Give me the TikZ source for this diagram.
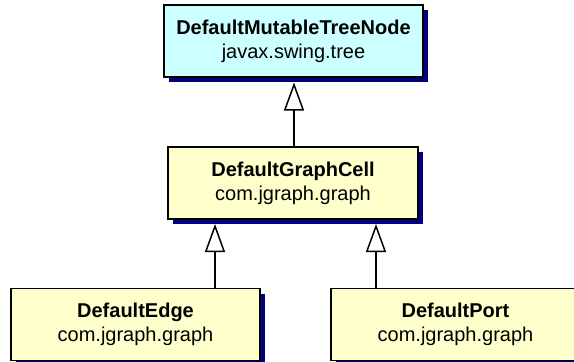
\documentclass[tikz,border=0pt]{standalone}
\usepackage{fontspec}
\setmainfont{Liberation Sans}
\usetikzlibrary{arrows.meta,shadows}
\definecolor{classcyan}{HTML}{CCFFFF}
\definecolor{classyellow}{HTML}{FFFFCC}
\definecolor{shadownavy}{HTML}{000080}
\tikzset{
  classbox/.style={draw=black, line width=1.6pt, rectangle, inner sep=0pt,
    minimum height=72pt, align=center,
    font=\fontsize{20pt}{24pt}\selectfont,
    drop shadow={shadow xshift=5pt, shadow yshift=-5pt, fill=shadownavy, opacity=1}},
  inherits/.style={line width=1.5pt,
    -{Triangle[length=28pt, width=20pt, fill=white, line width=1.5pt]}}
}
\begin{document}
\begin{tikzpicture}[x=1pt, y=-1pt]
  \useasboundingbox (0,0) rectangle (574,362);
  \clip (0,0) rectangle (574,362);

  % classes
  \node[classbox, fill=classcyan, minimum width=259pt] (tree) at (293.5,41)
    {\textbf{DefaultMutableTreeNode}\\javax.swing.tree};
  \node[classbox, fill=classyellow, minimum width=250pt] (cell) at (293,183)
    {\textbf{DefaultGraphCell}\\com.jgraph.graph};
  \node[classbox, fill=classyellow, minimum width=249pt] (edge) at (135.5,324.5)
    {\textbf{DefaultEdge}\\com.jgraph.graph};
  \node[classbox, fill=classyellow, minimum width=249pt] (port) at (455.5,324.5)
    {\textbf{DefaultPort}\\com.jgraph.graph};

  % arrow tips touch the bottom of the parent's shadow
  \coordinate (treetip) at (294,82.5);
  \coordinate (edgetip) at (215,224);
  \coordinate (porttip) at (376,224);

  % generalisation connectors
  \draw[inherits] (cell.north -| treetip) -- (treetip);
  \draw[inherits] (edge.north -| edgetip) -- (edgetip);
  \draw[inherits] (port.north -| porttip) -- (porttip);
\end{tikzpicture}
\end{document}
